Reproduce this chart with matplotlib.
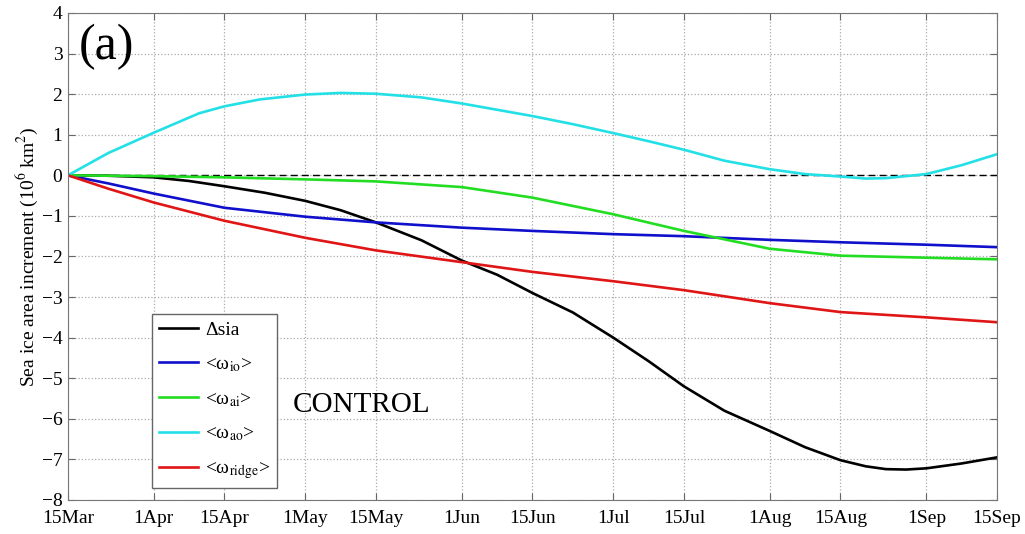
import matplotlib.pyplot as plt

# days after 15 Mar
tick_days = [0, 17, 31, 47, 61, 78, 92, 108, 122, 139, 153, 170, 184]
tick_labels = ['15Mar', '1Apr', '15Apr', '1May', '15May', '1Jun', '15Jun',
               '1Jul', '15Jul', '1Aug', '15Aug', '1Sep', '15Sep']

# values (10^6 km^2)
sia_days = [0, 8, 17, 24, 31, 39, 47, 54, 61, 70, 78, 85, 92, 100, 108, 115,
            122, 130, 139, 146, 153, 158, 162, 166, 170, 177, 184]
sia = [0, -0.01, -0.05, -0.14, -0.27, -0.43, -0.63, -0.86, -1.16, -1.6, -2.1,
       -2.45, -2.9, -3.38, -4.0, -4.58, -5.2, -5.8, -6.3, -6.7, -7.02, -7.17,
       -7.24, -7.25, -7.22, -7.1, -6.95]

ao_days = [0, 8, 17, 26, 31, 38, 47, 54, 61, 70, 78, 92, 100, 108, 115, 122,
           130, 139, 146, 153, 158, 162, 170, 177, 184]
ao = [0, 0.55, 1.05, 1.53, 1.70, 1.87, 1.99, 2.03, 2.01, 1.92, 1.77, 1.46,
      1.26, 1.04, 0.84, 0.63, 0.36, 0.15, 0.03, -0.03, -0.08, -0.07, 0.03,
      0.25, 0.52]

w_days = [0, 8, 17, 31, 47, 61, 78, 92, 108, 122, 139, 153, 170, 184]
io = [0, -0.2, -0.45, -0.8, -1.02, -1.16, -1.29, -1.37, -1.45, -1.5, -1.59,
      -1.65, -1.71, -1.77]
ai = [0, -0.01, -0.02, -0.05, -0.1, -0.15, -0.29, -0.55, -0.96, -1.37, -1.81,
      -1.98, -2.03, -2.07]
ridge = [0, -0.33, -0.67, -1.12, -1.54, -1.85, -2.14, -2.38, -2.61, -2.83,
         -3.15, -3.37, -3.5, -3.62]

plt.rcParams['font.family'] = ['Liberation Serif', 'DejaVu Serif']
plt.rcParams['mathtext.fontset'] = 'stix'

fig = plt.figure(figsize=(10.25, 5.34), dpi=100)
ax = fig.add_axes([0.0663, 0.0637, 0.9064, 0.912])

lw = 1.9
ax.axhline(0, color='black', linestyle='--', linewidth=1.0, dashes=(5, 3))
ax.plot(sia_days, sia, color='black', linewidth=lw, label='Δsia')
ax.plot(w_days, io, color='#1010cc', linewidth=lw, label=r'<ω$_{\rm io}$>')
ax.plot(w_days, ai, color='#22dd22', linewidth=lw, label=r'<ω$_{\rm ai}$>')
ax.plot(ao_days, ao, color='#22e0e6', linewidth=lw, label=r'<ω$_{\rm ao}$>')
ax.plot(w_days, ridge, color='#e01515', linewidth=lw, label=r'<ω$_{\rm ridge}$>')

ax.set_xlim(0, 184)
ax.set_ylim(-8, 4)
ax.set_xticks(tick_days)
ax.set_xticklabels(tick_labels)
ax.set_yticks(range(-8, 5))
ax.tick_params(direction='in', labelsize=14, top=True, right=True,
               color='#666666', length=5)
ax.tick_params(axis='x', pad=7)
ax.tick_params(axis='y', pad=4)
for s in ax.spines.values():
    s.set_color('#777777')
ax.grid(True, linestyle=':', color='#aaaaaa', linewidth=0.9)

ax.set_ylabel(r'Sea ice area increment (10$^6$ km$^2$)', fontsize=14, labelpad=1)

ax.text(0.012, 0.93, '(a)', transform=ax.transAxes, fontsize=36,
        va='center', ha='left')
ax.text(0.242, 0.195, 'CONTROL', transform=ax.transAxes, fontsize=21,
        va='center', ha='left')

leg = ax.legend(loc='lower left', bbox_to_anchor=(0.0904, 0.0246),
                borderaxespad=0, fontsize=14, fancybox=False, framealpha=1,
                edgecolor='#666666', handlelength=2.0, labelspacing=0.85,
                handletextpad=0.4, borderpad=0.35)
leg.get_frame().set_linewidth(1.0)

fig.savefig('out.png', dpi=100)
